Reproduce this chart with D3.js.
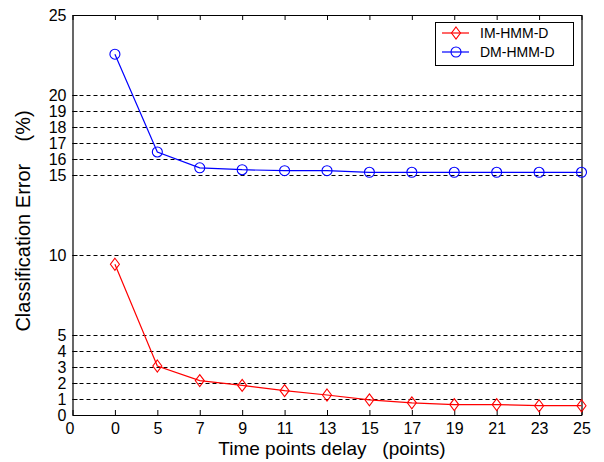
<!DOCTYPE html>
<html><head><meta charset="utf-8">
<script src="https://cdn.jsdelivr.net/npm/d3@7"></script>
<style>body{margin:0;background:#fff}svg{display:block}text{font-family:Arial,"Liberation Sans",sans-serif;fill:#000}</style>
</head><body>
<script>
const xTickLabels = ["0","0","5","7","9","11","13","15","17","19","21","23","25"];
const delays = ["0","5","7","9","11","13","15","17","19","21","23","25"];
const imHmmD = [9.42, 3.06, 2.15, 1.85, 1.52, 1.25, 0.95, 0.76, 0.65, 0.65, 0.58, 0.58];
const dmHmmD = [22.55, 16.44, 15.45, 15.33, 15.27, 15.27, 15.17, 15.17, 15.17, 15.17, 15.17, 15.17];
const yTicks = [0,1,2,3,4,5,10,15,16,17,18,19,20,25];
const gridValues = [1,2,3,4,5,10,15,16,17,18,19,20];
const seriesNames = ["IM-HMM-D","DM-HMM-D"];

const W=604,H=462;
const L=72.5,R=581.5,T=15,B=415;
const svg=d3.select("body").append("svg").attr("width",W).attr("height",H);
const x=d3.scaleLinear().domain([0,12]).range([L,R]);
const y=d3.scaleLinear().domain([0,25]).range([B,T]);

// grid
svg.append("g").selectAll("line").data(gridValues).join("line")
  .attr("x1",L).attr("x2",R).attr("y1",d=>Math.round(y(d))+0.5).attr("y2",d=>Math.round(y(d))+0.5)
  .attr("stroke","#000").attr("stroke-width",1).attr("stroke-dasharray","4,3");

// axes
const xAxis=d3.axisBottom(x).tickValues(d3.range(13)).tickFormat(i=>xTickLabels[i]).tickSizeInner(-5).tickSizeOuter(0).tickPadding(8);
const gx=svg.append("g").attr("transform",`translate(0,${B})`).call(xAxis);
const xTop=d3.axisTop(x).tickValues(d3.range(13)).tickFormat("").tickSizeInner(-5).tickSizeOuter(0);
const gxt=svg.append("g").attr("transform",`translate(0,${T})`).call(xTop);
const yAxis=d3.axisLeft(y).tickValues(yTicks).tickFormat(d3.format("d")).tickSizeInner(-5).tickSizeOuter(0).tickPadding(6);
const gy=svg.append("g").attr("transform",`translate(${L},0)`).call(yAxis);
const yRight=d3.axisRight(y).tickValues(yTicks).tickFormat("").tickSizeInner(-5).tickSizeOuter(0);
const gyr=svg.append("g").attr("transform",`translate(${R},0)`).call(yRight);
[gx,gxt,gy,gyr].forEach(g=>{g.selectAll("path").attr("stroke","#000").attr("stroke-width",1.2);g.selectAll("line").attr("stroke","#000");g.selectAll("text").style("font-size","16px").attr("fill","#000").style("font-family","Arial, 'Liberation Sans', sans-serif");});
gx.selectAll(".tick text").attr("dy","0.71em");
gx.selectAll(".tick text").filter((d,i)=>i===0).attr("dx","-3");

// lines
const line=d3.line().x((d,i)=>x(i+1)).y(d=>y(d));
const series=[{name:seriesNames[0],vals:imHmmD,color:"#ff0000",shape:"diamond"},{name:seriesNames[1],vals:dmHmmD,color:"#0000ff",shape:"circle"}];
function marker(g,shape,color,cx,cy){
  if(shape==="circle") g.append("circle").attr("cx",cx).attr("cy",cy).attr("r",5).attr("fill","none").attr("stroke",color).attr("stroke-width",1.1);
  else g.append("path").attr("d",`M${cx},${cy-6}L${cx+4.5},${cy}L${cx},${cy+6}L${cx-4.5},${cy}Z`).attr("fill","none").attr("stroke",color).attr("stroke-width",1.1);
}
series.forEach(s=>{
  svg.append("path").datum(s.vals).attr("d",line).attr("fill","none").attr("stroke",s.color).attr("stroke-width",1.2);
  const g=svg.append("g");
  s.vals.forEach((v,i)=>marker(g,s.shape,s.color,x(i+1),y(v)));
});

// legend
const lg=svg.append("g");
lg.append("rect").attr("x",435.5).attr("y",22.5).attr("width",138).attr("height",43).attr("fill","#fff").attr("stroke","#000").attr("stroke-width",1);
series.forEach((s,i)=>{
  const ly=33+i*19;
  lg.append("line").attr("x1",442).attr("x2",469).attr("y1",ly).attr("y2",ly).attr("stroke",s.color).attr("stroke-width",1.2);
  marker(lg,s.shape,s.color,456,ly);
  lg.append("text").attr("x",480).attr("y",ly+5).style("font-size","14px").text(s.name);
});

// axis labels
svg.append("text").attr("x",332).attr("y",455).attr("text-anchor","middle").style("font-size","19px").style("white-space","pre").text("Time points delay   (points)");
svg.append("text").attr("transform","translate(30,221) rotate(-90)").attr("text-anchor","middle").style("font-size","20px").style("white-space","pre").text("Classification Error    (%)");
</script>
</body></html>
